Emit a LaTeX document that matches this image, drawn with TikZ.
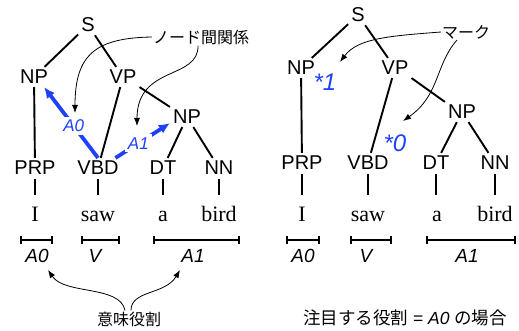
\documentclass[tikz,border=0pt]{standalone}
\usepackage{fontspec}
\setmainfont{Liberation Sans}
\newfontfamily\serifw{Liberation Serif}
\newfontfamily\jpfont{Noto Sans CJK JP}
\usetikzlibrary{arrows.meta}
\definecolor{relblue}{RGB}{30,64,255}

\begin{document}
\begin{tikzpicture}[x=1pt,y=-1pt,
  tag/.style={font=\fontsize{20}{20}\selectfont, inner sep=3pt},
  word/.style={font=\serifw\fontsize{22}{22}\selectfont, anchor=base, inner sep=0pt, text height=15pt},
  role/.style={font=\fontsize{19}{19}\selectfont\itshape, inner sep=1pt},
  branch/.style={line width=1.9pt},
  leaftick/.style={line width=1.9pt, shorten <=1pt, shorten >=12pt},
  spanbar/.style={line width=1.8pt, {Bar[width=8pt]}-{Bar[width=8pt]}},
  relarrow/.style={line width=3.8pt, relblue, -{Latex[length=11pt,width=10pt]}},
  rellab/.style={font=\fontsize{17}{17}\selectfont\itshape, text=relblue, fill=white, inner sep=3pt},
  starlab/.style={font=\fontsize{24}{24}\selectfont\itshape, text=relblue, inner sep=1pt},
  ptr/.style={line width=0.8pt, -{Latex[length=8pt,width=6pt]}},
  note/.style={font=\jpfont\fontsize{16}{16}\selectfont, inner sep=1pt}]

\useasboundingbox (0,0) rectangle (519,331);

% ---------- left tree ----------
\node[tag] (S)   at (88,25)   {S};
\node[tag] (NPa) at (34,77)   {NP};
\node[tag] (VP)  at (123,77)  {VP};
\node[tag] (NPb) at (187,117) {NP};
\node[tag] (PRP) at (35,168)  {PRP};
\node[tag] (VBD) at (98,168)  {VBD};
\node[tag] (DT)  at (163,168) {DT};
\node[tag] (NN)  at (219,168) {NN};

\draw[branch] (S) -- (NPa);
\draw[branch] (S) -- (VP);
\draw[branch] (NPa) -- (PRP);
\draw[branch] (VP) -- (VBD);
\draw[branch] (VP.south east) -- (NPb.north west);
\draw[branch] (NPb) -- (DT);
\draw[branch] (NPb) -- (NN);

\node[word] (wI)    at (35,222)  {I};
\node[word] (wsaw)  at (98,222)  {saw};
\node[word] (wa)    at (163,222) {a};
\node[word] (wbird) at (219,222) {bird};

\draw[leaftick] (PRP.south) -- (PRP.south |- wI.north);
\draw[leaftick] (VBD.south) -- (VBD.south |- wsaw.north);
\draw[leaftick] (DT.south)  -- (DT.south |- wa.north);
\draw[leaftick] (NN.south)  -- (NN.south |- wbird.north);

% argument spans
\coordinate (a0l) at (20,240);  \coordinate (a0r) at (53,240);
\coordinate (vl)  at (81,240);  \coordinate (vr)  at (120,240);
\coordinate (a1l) at (153,240); \coordinate (a1r) at (240,240);
\draw[spanbar] (a0l) -- (a0r);
\draw[spanbar] (vl) -- (vr);
\draw[spanbar] (a1l) -- (a1r);
\node[role] (rA0) at (37,256)  {A0};
\node[role] (rV)  at (95,256)  {V};
\node[role] (rA1) at (193,256) {A1};

% relations between nodes
\draw[relarrow] (VBD.north) -- node[rellab, pos=0.45] (lA0) {A0} (NPa.-45);
\draw[relarrow] (VBD.30) -- node[rellab, pos=0.42] (lA1) {A1} (NPb.-160);

\node[note] (relnote) at (201,37) {ノード間関係};
\coordinate (tipA0) at (75,113);
\coordinate (tipA1) at (137,126);
\draw[ptr] (relnote.west) .. controls (95,38) and (75,55) .. (tipA0);
\draw[ptr] ([xshift=-3pt]relnote.south) .. controls (199,80) and (137,65) .. (tipA1);

\node[note] (semnote) at (129,319) {意味役割};
\coordinate (tipR0) at (48,270);
\coordinate (tipR1) at (180,270);
\draw[ptr] ([xshift=-4pt]semnote.north) .. controls (120,285) and (65,295) .. (tipR0);
\draw[ptr] ([xshift=2pt]semnote.north) .. controls (131,290) and (165,295) .. (tipR1);

% ---------- right tree ----------
\node[tag] (S2)   at (358,15)  {S};
\node[tag] (NPc)  at (301,68)  {NP};
\node[tag] (VP2)  at (395,68)  {VP};
\node[tag] (NPd)  at (462,112) {NP};
\node[tag] (PRP2) at (302,163) {PRP};
\node[tag] (VBD2) at (368,163) {VBD};
\node[tag] (DT2)  at (436,163) {DT};
\node[tag] (NN2)  at (495,163) {NN};

\draw[branch] (S2) -- (NPc);
\draw[branch] (S2) -- (VP2);
\draw[branch] (NPc) -- (PRP2);
\draw[branch] (VP2) -- (VBD2);
\draw[branch] (VP2.south east) -- (NPd.north west);
\draw[branch] (NPd) -- (DT2);
\draw[branch] (NPd) -- (NN2);

\node[word] (wI2)    at (302,222) {I};
\node[word] (wsaw2)  at (368,222) {saw};
\node[word] (wa2)    at (437,222) {a};
\node[word] (wbird2) at (495,222) {bird};

\draw[leaftick] (PRP2.south) -- (PRP2.south |- wI2.north);
\draw[leaftick] (VBD2.south) -- (VBD2.south |- wsaw2.north);
\draw[leaftick] (DT2.south)  -- (DT2.south |- wa2.north);
\draw[leaftick] (NN2.south)  -- (NN2.south |- wbird2.north);

\coordinate (b0l) at (286,240); \coordinate (b0r) at (320,240);
\coordinate (bvl) at (350,240); \coordinate (bvr) at (392,240);
\coordinate (b1l) at (426,240); \coordinate (b1r) at (516,240);
\draw[spanbar] (b0l) -- (b0r);
\draw[spanbar] (bvl) -- (bvr);
\draw[spanbar] (b1l) -- (b1r);
\node[role] (rA0b) at (303,256) {A0};
\node[role] (rVb)  at (366,256) {V};
\node[role] (rA1b) at (467,256) {A1};

% marks
\node[starlab] (st1) at (325,82)  {*1};
\node[starlab] (st0) at (395,143) {*0};

\node[note] (marknote) at (466,32) {マーク};
\coordinate (tipM1) at (340,62);
\coordinate (tipM0) at (403,121);
\draw[ptr] (marknote.west) .. controls (390,36) and (358,38) .. (tipM1);
\draw[ptr] ([xshift=-9pt]marknote.south) .. controls (435,65) and (440,95) .. (tipM0);

\node[note, font=\fontsize{17.5}{17.5}\selectfont] (caption) at (405,318)
  {{\jpfont 注目する役割} = \textit{A0} {\jpfont の場合}};

\end{tikzpicture}
\end{document}
